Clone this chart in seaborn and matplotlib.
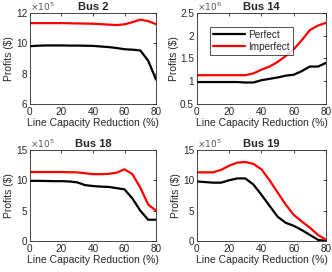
import matplotlib
matplotlib.use("Agg")
import matplotlib.pyplot as plt
import matplotlib.ticker as mticker
import seaborn as sns
import pandas as pd
import numpy as np

x = [0, 5, 10, 15, 20, 25, 30, 35, 40, 45, 50, 55, 60, 65, 70, 75, 80]

bus2_perfect = [9.80, 9.83, 9.85, 9.85, 9.85, 9.84, 9.84, 9.83, 9.82, 9.78, 9.74, 9.68, 9.60, 9.57, 9.52, 8.85, 7.60]
bus2_imperfect = [11.32, 11.32, 11.32, 11.32, 11.32, 11.31, 11.30, 11.29, 11.28, 11.25, 11.22, 11.19, 11.24, 11.38, 11.55, 11.45, 11.25]

bus14_perfect = [0.98, 0.98, 0.98, 0.98, 0.98, 0.98, 0.97, 0.97, 1.02, 1.05, 1.08, 1.12, 1.14, 1.22, 1.32, 1.32, 1.40]
bus14_imperfect = [1.13, 1.13, 1.13, 1.13, 1.13, 1.13, 1.13, 1.17, 1.25, 1.32, 1.42, 1.55, 1.70, 1.90, 2.12, 2.22, 2.28]

bus18_perfect = [9.90, 9.90, 9.88, 9.85, 9.85, 9.80, 9.65, 9.20, 9.05, 8.95, 8.90, 8.70, 8.50, 7.00, 5.00, 3.50, 3.50]
bus18_imperfect = [11.35, 11.35, 11.35, 11.35, 11.35, 11.32, 11.30, 11.15, 11.00, 11.00, 11.05, 11.25, 11.80, 11.00, 8.80, 6.00, 5.00]

bus19_perfect = [9.80, 9.70, 9.60, 9.60, 10.00, 10.30, 10.30, 9.30, 7.60, 5.80, 4.00, 3.00, 2.50, 1.80, 1.00, 0.20, 0.00]
bus19_imperfect = [11.30, 11.30, 11.30, 11.70, 12.40, 12.90, 13.00, 12.70, 11.80, 10.00, 8.00, 6.00, 4.30, 3.20, 2.20, 1.00, 0.20]

titles = ["Bus 2", "Bus 14", "Bus 18", "Bus 19"]
exponents = [5, 6, 5, 5]
series = [(bus2_perfect, bus2_imperfect), (bus14_perfect, bus14_imperfect),
          (bus18_perfect, bus18_imperfect), (bus19_perfect, bus19_imperfect)]
ylims = [(6, 12), (0.5, 2.5), (0, 15), (0, 15)]
yticks = [[6, 8, 10, 12], [0.5, 1, 1.5, 2, 2.5], [0, 5, 10, 15], [0, 5, 10, 15]]
xticks = [0, 20, 40, 60, 80]

sns.set_style("white")
plt.rcParams['font.family'] = ['Liberation Sans', 'DejaVu Sans']

fig = plt.figure(figsize=(3.32, 2.72), dpi=100)
positions = [
    [0.090, 0.618, 0.380, 0.335],
    [0.593, 0.618, 0.389, 0.335],
    [0.090, 0.114, 0.380, 0.335],
    [0.593, 0.114, 0.389, 0.335],
]
gray = "#262626"
palette = {"Perfect": "black", "Imperfect": "red"}
for i in range(4):
    ax = fig.add_axes(positions[i])
    p, im = series[i]
    sc = 10 ** exponents[i]
    df = pd.DataFrame({
        "x": x + x,
        "y": [v * sc for v in p] + [v * sc for v in im],
        "kind": ["Perfect"] * len(x) + ["Imperfect"] * len(x),
    })
    sns.lineplot(data=df, x="x", y="y", hue="kind", palette=palette, ax=ax,
                 linewidth=1.6, legend=(i == 1))
    ax.set_xlim(0, 80)
    ax.set_ylim(ylims[i][0] * sc, ylims[i][1] * sc)
    ax.set_xticks(xticks)
    ax.set_yticks([t * sc for t in yticks[i]])
    ax.yaxis.set_major_formatter(mticker.FuncFormatter(lambda v, pos, s=sc: f"{v / s:g}"))
    ax.text(0.0, 1.0, r"$\times10^{%d}$" % exponents[i], transform=ax.transAxes,
            ha="left", va="bottom", fontsize=6.5, color="#555555")
    ax.set_title(titles[i], fontsize=8, fontweight="bold", pad=2)
    ax.set_xlabel("Line Capacity Reduction (%)", fontsize=7.5, color=gray, labelpad=1)
    ax.set_ylabel("Profits ($)", fontsize=7.5, color=gray, labelpad=1)
    ax.tick_params(direction="in", length=2.5, width=0.6, labelsize=7.2, colors=gray, pad=2,
                   top=True, right=True)
    for s in ax.spines.values():
        s.set_linewidth(0.6)
        s.set_color(gray)
    if i == 1:
        leg = ax.legend(loc="upper left", bbox_to_anchor=(0.06, 0.90), fontsize=7.2,
                        frameon=True, fancybox=False, edgecolor="black",
                        handlelength=3.2, borderpad=0.3, labelspacing=0.2, handletextpad=0.4)
        leg.get_frame().set_linewidth(0.6)
        leg.set_title(None)

fig.savefig("out.png", dpi=100)
